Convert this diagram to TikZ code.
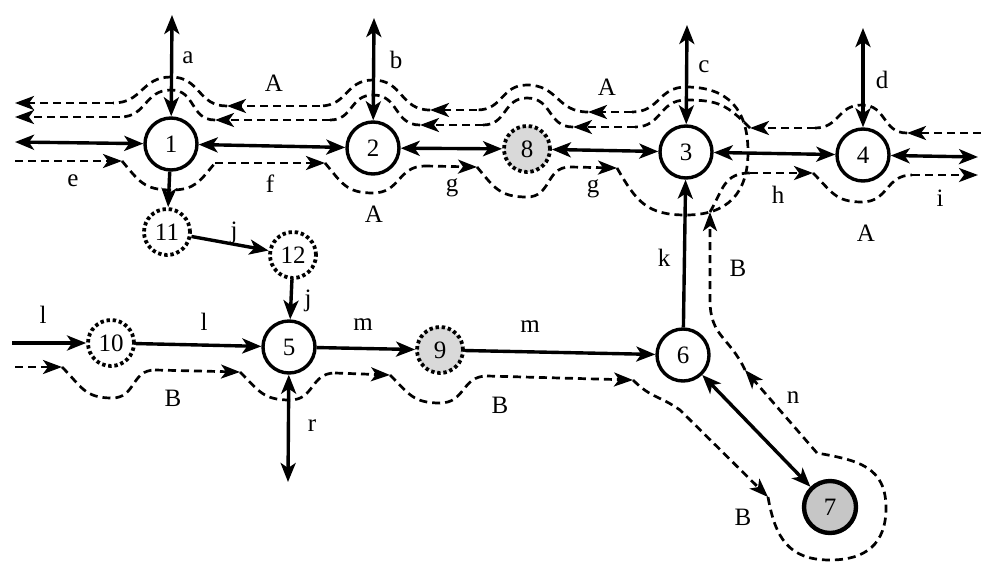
\documentclass[tikz,border=0pt]{standalone}
\usepackage{fontspec}
\setmainfont{Liberation Serif}
\usetikzlibrary{arrows.meta}

\begin{document}
\begin{tikzpicture}[x=1pt, y=-1pt,
  stopnode/.style={circle, draw, line width=3.4pt, minimum size=52pt, inner sep=0pt, fill=white},
  dotnode/.style={circle, draw, line width=3.8pt, dash pattern=on 3.4pt off 2.8pt, minimum size=46pt, inner sep=0pt, fill=white},
  greynode/.style={dotnode, fill=gray!30},
  bignode/.style={stopnode, line width=4.4pt, fill=gray!45},
  link/.style={line width=3.4pt, >={Stealth[length=19pt,width=15pt,inset=5pt]}},
  route/.style={line width=2.7pt, dash pattern=on 8pt off 5pt, looseness=1.2, >={Stealth[length=19pt,width=14pt,inset=5pt]}},
  tag/.style={inner sep=0pt},
  every node/.style={font=\fontsize{25}{29}\selectfont}]

% Drawing window
\useasboundingbox (0,0) rectangle (981,565);

% Junctions
\node[stopnode] (n1) at (171,144) {1};
\node[stopnode] (n2) at (373,148) {2};
\node[stopnode] (n3) at (686,152) {3};
\node[stopnode] (n4) at (863,155) {4};
\node[stopnode] (n5) at (289,347) {5};
\node[stopnode] (n6) at (683,355) {6};
\node[bignode]  (n7) at (830,507) {7};
\node[greynode] (n8) at (527,149) {8};
\node[greynode] (n9) at (440,350) {9};
\node[dotnode]  (n10) at (111,343) {10};
\node[dotnode]  (n11) at (167,232) {11};
\node[dotnode]  (n12) at (293,255) {12};

% Loose ends of the roads
\coordinate (ea) at (172,15);
\coordinate (eb) at (374,18);
\coordinate (ec) at (687,25);
\coordinate (ed) at (863,28);
\coordinate (ew) at (15,142);
\coordinate (ee) at (978,157);
\coordinate (el) at (12,343);
\coordinate (er) at (288,482);

% Roads
\foreach \a/\b in {ea/n1, eb/n2, ec/n3, ed/n4, ew/n1, n1/n2, n2/n8, n8/n3, n3/n4, n4/ee, n6/n7, er/n5}
  \draw[link,<->] (\a) -- (\b);
\foreach \a/\b in {n1/n11, n11/n12, n12/n5, el/n10, n10/n5, n5/n9, n9/n6, n6/n3}
  \draw[link,->] (\a) -- (\b);

% Route A, straight pieces (each one ends in an arrow)
\foreach \xa/\ya/\xb/\yb in {15/161/122/161, 215/163/325/163, 425/166/477/167, 570/167/617/168,
    632/112/588/112, 477/110/430/110, 320/106/227/106, 113/103/15/103,
    981/133/907/133, 815/128/750/128, 635/127/573/127, 483/125/420/125, 330/120/215/120, 120/117/15/117}
  \draw[route,->] (\xa,\ya) -- (\xb,\yb);

% Route A, bends round the junctions
\draw[route] (122,161) to[out=-50,in=180] (171,190) to[out=0,in=-130] (215,163);
\draw[route] (325,163) to[out=-50,in=180] (373,193) to[out=0,in=180] (425,166);
\draw[route] (477,167) to[out=-50,in=180] (527,197) to[out=0,in=180] (570,167);
\draw[route] (617,168) to[out=-60,in=180] (686,215) to[out=0,in=-90] (748,152)
  to[out=90,in=0] (686,87) to[out=180,in=0] (632,112);
\draw[route] (588,112) to[out=180,in=0] (527,85) to[out=180,in=0] (477,110);
\draw[route] (430,110) to[out=180,in=0] (373,80) to[out=180,in=0] (320,106);
\draw[route] (227,106) to[out=180,in=0] (171,77) to[out=180,in=0] (113,103);
\draw[route] (907,133) to[out=180,in=0] (862,105) to[out=180,in=0] (815,128);
\draw[route] (750,128) to[out=135,in=0] (686,100) to[out=180,in=0] (635,127);
\draw[route] (573,127) to[out=180,in=0] (527,98) to[out=180,in=0] (483,125);
\draw[route] (420,125) to[out=180,in=0] (373,95) to[out=180,in=0] (330,120);
\draw[route] (215,120) to[out=180,in=0] (171,90) to[out=180,in=0] (120,117);

% Route B
\foreach \xa/\ya/\xb/\yb in {15/367/62/367, 155/370/240/372, 335/373/390/375, 487/376/633/380,
    817/453/745/370, 750/173/813/173, 912/175/978/175}
  \draw[route,->] (\xa,\ya) -- (\xb,\yb);
\draw[route] (62,367) to[out=-45,in=180] (112,398) to[out=0,in=180] (155,370);
\draw[route] (240,372) to[out=-45,in=180] (290,400) to[out=0,in=180] (335,373);
\draw[route] (390,375) to[out=-45,in=180] (440,403) to[out=0,in=180] (487,376);
\draw[route,->] (633,380) to[out=-45,in=145] (680,410) -- (768,497);
\draw[route] (768,497) to[out=-80,in=180] (830,560) to[out=0,in=-90] (886,508)
  to[out=90,in=-10] (817,453);
\draw[route,->] (745,370) to[out=115,in=-90] (710,300) -- (710,212);
\draw[route] (710,212) to[out=60,in=180] (750,173);
\draw[route] (813,173) to[out=-45,in=180] (862,202) to[out=0,in=180] (912,175);

% Labels
\foreach \nm/\x/\y/\t in {la/188/58/a, lb/396/60/b, lc/704/67/c, ld/882/80/d,
    lA1/274/83/A, lA2/607/87/A, lA3/374/214/A, lA4/866/233/A,
    le/73/181/e, lf/270/184/f, lg1/452/188/g, lg2/593/189/g, lh/778/195/h, li/940/198/i,
    lj1/234/233/j, lj2/308/301/j, lk/664/258/k, ll1/43/315/l, ll2/204/322/l,
    lm1/363/325/m, lm2/530/327/m, lr/312/426/r, ln/793/398/n,
    lB1/173/398/B, lB2/500/405/B, lB3/738/268/B, lB4/743/517/B}
  \node[tag] (\nm) at (\x,\y) {\t};

\end{tikzpicture}
\end{document}
